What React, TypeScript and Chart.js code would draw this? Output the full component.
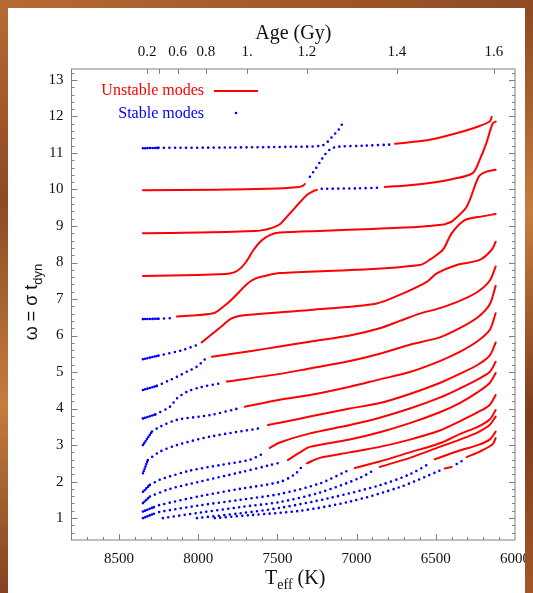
import React, { useEffect, useRef } from 'react';
import { Chart, registerables } from 'chart.js';
Chart.register(...registerables);

// [Teff (K), omega, state]  state: 1 = unstable, 0 = stable, 2 = stable (densely sampled models)
type P = [number, number, number];
const U = 1;
const S = 0;
const D = 2;

const mode14: P[] = [[8349,11.13,D],[8250,11.14,D],[7800,11.15,S],[7400,11.17,S],[7220,11.2,S],[7182,11.31,S],[7150,11.47,S],[7118,11.61,S],[7087,11.82,S]];
const mode13: P[] = [[8349,9.98,U],[7900,9.99,U],[7500,10.03,U],[7380,10.06,U],[7340,10.1,U],[7327,10.15,U],
  [7295,10.35,S],[7260,10.56,S],[7230,10.76,S],[7195,10.98,S],[7160,11.12,S],[7120,11.17,S],[6950,11.2,S],[6784,11.23,S],
  [6757,11.25,U],[6650,11.3,U],[6538,11.36,U],[6330,11.59,U],[6223,11.74,U],[6160,11.86,U],[6147,11.99,U]];
const mode12: P[] = [[8349,8.8,U],[8000,8.82,U],[7650,8.86,U],[7600,8.88,U],[7548,8.93,U],[7485,9.05,U],[7420,9.35,U],[7358,9.65,U],[7310,9.86,U],[7276,9.95,U],[7250,9.99,U],
  [7220,10.02,S],[7000,10.03,S],[6854,10.05,S],
  [6822,10.07,U],[6700,10.1,U],[6550,10.17,U],[6400,10.28,U],[6267,10.45,U],[6223,10.81,U],[6181,11.27,U],[6141,11.81,U],[6122,11.86,U]];
const mode11: P[] = [[8349,7.63,U],[8000,7.66,U],[7800,7.7,U],[7750,7.78,U],[7700,8.0,U],[7650,8.35,U],[7600,8.6,U],[7548,8.75,U],[7485,8.82,U],[7200,8.87,U],[6900,8.92,U],[6600,8.98,U],[6450,9.04,U],[6431,9.07,U],[6400,9.12,U],[6305,9.53,U],[6229,10.35,U],[6181,10.49,U],[6122,10.54,U]];
const mode10: P[] = [[8349,6.45,D],[8250,6.46,D],[8150,6.48,S],
  [8134,6.52,U],[7905,6.61,U],[7842,6.79,U],[7790,6.98,U],[7740,7.2,U],[7690,7.42,U],[7640,7.56,U],[7580,7.63,U],[7485,7.71,U],[7000,7.8,U],[6601,7.93,U],[6530,8.1,U],[6455,8.35,U],[6400,8.8,U],[6317,9.16,U],[6200,9.27,U],[6122,9.33,U]];
const mode9: P[] = [[8349,5.35,D],[8250,5.45,D],[8100,5.6,S],[8008,5.74,S],
  [7979,5.81,U],[7842,6.29,U],[7789,6.47,U],[7695,6.56,U],[7295,6.7,U],[6873,6.88,U],[6709,7.15,U],[6557,7.47,U],[6494,7.7,U],[6368,7.93,U],[6223,8.07,U],[6147,8.35,U],[6122,8.57,U]];
const mode8: P[] = [[8349,4.51,D],[8261,4.62,D],[8179,4.78,S],[8134,4.87,S],[8071,5.01,S],[8008,5.15,S],[7958,5.35,S],
  [7914,5.42,U],[7674,5.57,U],[7485,5.7,U],[7295,5.83,U],[7043,6.0,U],[6854,6.2,U],[6727,6.4,U],[6601,6.6,U],[6475,6.75,U],[6349,6.95,U],[6235,7.2,U],[6160,7.5,U],[6122,7.89,U]];
const mode7: P[] = [[8349,3.73,D],[8270,3.84,D],[8179,4.05,S],[8134,4.28,S],[8071,4.46,S],[7989,4.58,S],[7863,4.69,S],
  [7819,4.74,U],[7485,4.95,U],[7295,5.1,U],[7043,5.3,U],[6854,5.5,U],[6664,5.75,U],[6475,5.95,U],[6349,6.2,U],[6235,6.5,U],[6160,6.85,U],[6122,7.36,U]];
const mode6: P[] = [[8349,3.0,D],[8292,3.37,D],[8242,3.5,S],[8134,3.69,S],[7926,3.82,S],[7750,4.0,S],
  [7706,4.05,U],[7485,4.24,U],[7295,4.37,U],[7043,4.6,U],[6854,4.8,U],[6664,5.0,U],[6475,5.3,U],[6349,5.55,U],[6235,5.85,U],[6160,6.15,U],[6122,6.61,U]];
const mode5: P[] = [[8349,2.23,D],[8318,2.59,D],[8242,2.82,S],[8134,3.0,S],[7926,3.23,S],[7611,3.46,S],
  [7560,3.55,U],[7485,3.61,U],[7295,3.78,U],[7043,4.0,U],[6854,4.15,U],[6664,4.4,U],[6475,4.7,U],[6349,4.95,U],[6235,5.2,U],[6160,5.45,U],[6122,5.81,U]];
const mode4: P[] = [[8349,1.72,D],[8305,1.91,D],[8242,2.05,S],[8052,2.3,S],[7863,2.45,S],[7674,2.6,S],[7598,2.75,S],
  [7548,2.92,U],[7485,3.07,U],[7295,3.32,U],[7043,3.55,U],[6854,3.75,U],[6664,4.0,U],[6475,4.3,U],[6349,4.55,U],[6235,4.8,U],[6160,5.0,U],[6122,5.28,U]];
const mode3: P[] = [[8349,1.41,D],[8305,1.59,D],[8179,1.8,S],[7989,2.0,S],[7737,2.25,S],[7548,2.45,S],[7472,2.53,S],
  [7434,2.59,U],[7358,2.8,U],[7295,2.95,U],[7043,3.15,U],[6854,3.35,U],[6664,3.6,U],[6475,3.9,U],[6349,4.15,U],[6235,4.45,U],[6160,4.7,U],[6122,4.97,U]];
const mode2: P[] = [[8349,1.18,D],[8280,1.3,D],[8242,1.36,S],[7989,1.6,S],[7737,1.8,S],[7485,1.99,S],[7390,2.2,S],[7346,2.4,S],
  [7314,2.5,U],[7232,2.65,U],[7043,2.8,U],[6854,2.95,U],[6664,3.15,U],[6475,3.4,U],[6349,3.65,U],[6235,3.9,U],[6160,4.1,U],[6122,4.37,U]];
const mode1: P[] = [[8349,1.0,D],[8280,1.12,D],[8242,1.17,S],[7989,1.35,S],[7737,1.5,S],[7485,1.66,S],[7232,1.95,S],[7056,2.3,S],
  [7012,2.37,U],[6854,2.55,U],[6664,2.8,U],[6475,3.05,U],[6349,3.3,U],[6235,3.5,U],[6160,3.7,U],[6122,3.96,U]];
const modeE1: P[] = [[8223,1.0,S],[7989,1.15,S],[7737,1.3,S],[7485,1.44,S],[7232,1.7,S],[6980,2.1,S],[6885,2.33,S],
  [6854,2.4,U],[6664,2.65,U],[6475,2.95,U],[6349,3.15,U],[6235,3.35,U],[6160,3.55,U],[6122,3.78,U]];
const modeE2: P[] = [[8008,1.0,S],[7737,1.13,S],[7485,1.28,S],[7169,1.55,S],[6854,1.9,S],[6664,2.2,S],[6538,2.5,S],
  [6507,2.61,U],[6349,2.85,U],[6235,3.0,U],[6160,3.15,U],[6122,3.37,U]];
const modeE3: P[] = [[7895,1.0,S],[7674,1.08,S],[7358,1.2,S],[7043,1.45,S],[6727,1.85,S],[6475,2.3,S],
  [6444,2.36,U],[6400,2.4,U],
  [6368,2.48,S],[6336,2.56,S],
  [6305,2.67,U],[6223,2.82,U],[6141,3.02,U],[6122,3.19,U]];

const modes: P[][] = [mode1, mode2, mode3, mode4, mode5, mode6, mode7, mode8, mode9, mode10, mode11, mode12, mode13, mode14, modeE1, modeE2, modeE3];

const teffTicks = [8500, 8000, 7500, 7000, 6500, 6000];
const omegaTicks = [1, 2, 3, 4, 5, 6, 7, 8, 9, 10, 11, 12, 13];
const ageTeff = [8322, 8246, 8130, 7951, 7691, 7314, 6746, 6134];
const ageLabels = ['0.2', '', '0.6', '0.8', '1.', '1.2', '1.4', '1.6'];

const RED = '#ff0000';
const BLUE = '#0000ff';
const SERIF = '"Liberation Serif", "Times New Roman", serif';
const SANS = '"Liberation Sans", Arial, sans-serif';

function styleFor(state: number) {
  if (state === U) return { borderColor: RED, borderWidth: 2, borderDash: [] as number[] };
  if (state === D) return { borderColor: BLUE, borderWidth: 2.6, borderDash: [0, 2.4] };
  return { borderColor: BLUE, borderWidth: 2.6, borderDash: [0, 5.5] };
}

function buildDatasets() {
  const ds: any[] = [];
  modes.forEach((m) => {
    let run: P[] = [];
    const flush = () => {
      if (!run.length) return;
      const st = styleFor(run[run.length - 1][2]);
      ds.push({
        data: run.map((p) => ({ x: p[0], y: p[1] })),
        showLine: true,
        ...st,
        backgroundColor: st.borderColor,
        borderCapStyle: 'round',
        pointRadius: 0,
        tension: 0.3,
        fill: false,
      });
    };
    m.forEach((p) => {
      if (run.length && run[run.length - 1][2] !== p[2]) {
        const prev = run[run.length - 1];
        flush();
        // stable sampling change: keep the line continuous
        run = prev[2] !== U && p[2] !== U ? [prev] : [];
      }
      run.push(p);
    });
    flush();
  });
  return ds;
}

const decorPlugin = {
  id: 'decor',
  afterDraw(chart: any) {
    const { ctx, chartArea: a, scales } = chart;
    const xs = scales.x;
    const ys = scales.y;
    ctx.save();
    ctx.strokeStyle = '#808080';
    ctx.lineWidth = 1;
    ctx.strokeRect(a.left, a.top, a.right - a.left, a.bottom - a.top);
    ctx.beginPath();
    for (let t = 6100; t < 8800; t += 100) {
      const px = Math.round(xs.getPixelForValue(t)) + 0.5;
      const len = t % 500 === 0 ? 6 : 3;
      ctx.moveTo(px, a.bottom);
      ctx.lineTo(px, a.bottom - len);
    }
    for (let k = 6; k <= 132; k += 2) {
      const v = k / 10;
      const py = Math.round(ys.getPixelForValue(v)) + 0.5;
      const len = k % 10 === 0 ? 6 : 3;
      ctx.moveTo(a.left, py);
      ctx.lineTo(a.left + len, py);
      ctx.moveTo(a.right, py);
      ctx.lineTo(a.right - len, py);
    }
    ageTeff.forEach((t) => {
      const px = Math.round(xs.getPixelForValue(t)) + 0.5;
      ctx.moveTo(px, a.top);
      ctx.lineTo(px, a.top + 5);
    });
    ctx.stroke();

    // titles
    ctx.fillStyle = '#111';
    ctx.textBaseline = 'alphabetic';
    ctx.font = `20px ${SERIF}`;
    ctx.textAlign = 'center';
    const cx = (a.left + a.right) / 2;
    ctx.fillText('Age (Gy)', cx, 31);

    // bottom title T_eff (K)
    const big = `20px ${SERIF}`;
    const small = `14px ${SERIF}`;
    ctx.textAlign = 'left';
    ctx.font = big;
    const wT = ctx.measureText('T').width;
    const wK = ctx.measureText(' (K)').width;
    ctx.font = small;
    const wE = ctx.measureText('eff').width;
    let sx = cx + 2 - (wT + wE + wK) / 2;
    const by = 576;
    ctx.font = big;
    ctx.fillText('T', sx, by);
    sx += wT;
    ctx.font = small;
    ctx.fillText('eff', sx, by + 5);
    sx += wE;
    ctx.font = big;
    ctx.fillText(' (K)', sx, by);

    // y title
    ctx.save();
    ctx.translate(29, 294);
    ctx.rotate(-Math.PI / 2);
    const yb = `18px ${SANS}`;
    const ys2 = `13px ${SANS}`;
    ctx.font = yb;
    const w1 = ctx.measureText('\u03c9 = \u03c3 t').width;
    ctx.font = ys2;
    const w2 = ctx.measureText('dyn').width;
    let tx = -(w1 + w2) / 2;
    ctx.font = yb;
    ctx.fillText('\u03c9 = \u03c3 t', tx, 0);
    tx += w1;
    ctx.font = ys2;
    ctx.fillText('dyn', tx, 5);
    ctx.restore();

    // legend
    ctx.font = `16px ${SERIF}`;
    ctx.textAlign = 'right';
    ctx.textBaseline = 'middle';
    ctx.fillStyle = RED;
    ctx.fillText('Unstable modes', 196, 83);
    ctx.strokeStyle = RED;
    ctx.lineWidth = 2;
    ctx.beginPath();
    ctx.moveTo(206, 83);
    ctx.lineTo(250, 83);
    ctx.stroke();
    ctx.fillStyle = BLUE;
    ctx.fillText('Stable modes', 196, 105.5);
    ctx.beginPath();
    ctx.arc(228, 105, 1.3, 0, Math.PI * 2);
    ctx.fill();
    ctx.restore();
  },
};

export default function App() {
  const ref = useRef<HTMLCanvasElement>(null);
  useEffect(() => {
    document.body.style.background =
      'linear-gradient(160deg, #b86a33 0%, #8f4a22 25%, #c47d3d 50%, #7f3d1d 75%, #a85a2a 100%)';
    document.body.style.overflow = 'hidden';
    const canvas = ref.current!;
    const chart = new Chart(canvas, {
      type: 'scatter',
      data: { datasets: buildDatasets() },
      options: {
        animation: false,
        responsive: false,
        layout: { padding: { left: 0, right: 18, top: 0, bottom: 0 } },
        plugins: { legend: { display: false }, tooltip: { enabled: false } },
        scales: {
          x: {
            type: 'linear',
            position: 'bottom',
            min: 6000,
            max: 8800,
            reverse: true,
            grid: { display: false, drawTicks: false },
            border: { display: false },
            afterBuildTicks: (s: any) => {
              s.ticks = teffTicks.map((v) => ({ value: v }));
            },
            ticks: {
              autoSkip: false,
              maxRotation: 0,
              padding: 10,
              color: '#111',
              font: { family: SERIF, size: 15 },
              callback: (v: any) => String(v),
            },
            afterFit: (s: any) => {
              s.height = 53;
              s.paddingLeft = 0;
              s.paddingRight = 0;
            },
          },
          x2: {
            type: 'linear',
            position: 'top',
            min: 6000,
            max: 8800,
            reverse: true,
            grid: { display: false, drawTicks: false },
            border: { display: false },
            afterBuildTicks: (s: any) => {
              s.ticks = ageTeff.map((v) => ({ value: v }));
            },
            ticks: {
              autoSkip: false,
              maxRotation: 0,
              padding: 8,
              color: '#111',
              font: { family: SERIF, size: 15 },
              callback: (_v: any, i: number) => ageLabels[i],
            },
            afterFit: (s: any) => {
              s.height = 61;
              s.paddingLeft = 0;
              s.paddingRight = 0;
            },
          },
          y: {
            type: 'linear',
            min: 0.4,
            max: 13.3,
            grid: { display: false, drawTicks: false },
            border: { display: false },
            afterBuildTicks: (s: any) => {
              s.ticks = omegaTicks.map((v) => ({ value: v }));
            },
            ticks: {
              autoSkip: false,
              padding: 8,
              color: '#111',
              font: { family: SERIF, size: 15 },
              callback: (v: any) => String(v),
            },
            afterFit: (s: any) => {
              s.width = 63.5;
              s.paddingTop = 0;
              s.paddingBottom = 0;
            },
          },
        },
      },
      plugins: [decorPlugin],
    } as any);
    return () => chart.destroy();
  }, []);
  return (
    <div style={{ background: '#fff', width: 517, height: 600, position: 'relative' }}>
      <canvas ref={ref} width={525} height={585} style={{ display: 'block' }} />
    </div>
  );
}
